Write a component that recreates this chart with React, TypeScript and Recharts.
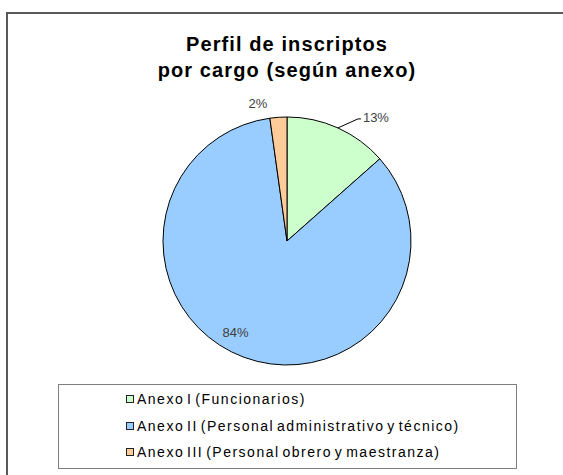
import React from "react";
import { PieChart, Pie, Cell, Legend } from "recharts";

const categories = [
  "Anexo I (Funcionarios)",
  "Anexo II (Personal administrativo y técnico)",
  "Anexo III (Personal obrero y maestranza)",
];
const values = [61, 382, 10];
const colors = ["#CCFFCC", "#99CCFF", "#FFCC99"];

const data = categories.map((name, i) => ({ name, value: values[i] }));
const total = values.reduce((a, b) => a + b, 0);

const RAD = Math.PI / 180;

const renderLabel = (props: any) => {
  const { cx, cy, midAngle, outerRadius, index, value } = props;
  const pct = `${Math.round((value / total) * 100)}%`;
  const font = { fontFamily: "'Liberation Sans', Arial, sans-serif", fontSize: 13, fill: "#404040" };
  if (index === 0) {
    const cos = Math.cos(-midAngle * RAD);
    const sin = Math.sin(-midAngle * RAD);
    const sx = cx + outerRadius * cos;
    const sy = cy + outerRadius * sin;
    const mx = sx + 20;
    const my = sy - 9;
    const ex = mx + 3;
    return (
      <g>
        <polyline points={`${sx},${sy} ${mx},${my} ${ex},${my}`} fill="none" stroke="#000" strokeWidth={1} />
        <text x={ex + 2} y={my + 3} textAnchor="start" {...font}>{pct}</text>
      </g>
    );
  }
  if (index === 1) {
    const a = (midAngle - 9) * RAD;
    const r = outerRadius * 0.85;
    return (
      <text x={cx + r * Math.cos(-a)} y={cy + r * Math.sin(-a) + 4} textAnchor="middle" {...font}>{pct}</text>
    );
  }
  const a = (midAngle + 8) * RAD;
  const r = outerRadius + 16;
  return (
    <text x={cx + r * Math.cos(-a)} y={cy + r * Math.sin(-a) + 4} textAnchor="middle" {...font}>{pct}</text>
  );
};

const renderLegend = () => (
  <div
    style={{
      width: 459,
      height: 85,
      border: "1px solid #7f7f7f",
      boxSizing: "border-box",
      paddingTop: 1,
      fontFamily: "'Liberation Sans', Arial, sans-serif",
      fontSize: 14,
      letterSpacing: 1.5,
      wordSpacing: -2.5,
      color: "#000",
    }}
  >
    {data.map((d, i) => (
      <div key={d.name} style={{ display: "flex", alignItems: "center", height: 26.5, paddingLeft: 67 }}>
        <span
          style={{
            display: "inline-block",
            width: 6,
            height: 6,
            border: "1px solid #222",
            background: colors[i],
            marginRight: 3,
          }}
        />
        <span>{d.name}</span>
      </div>
    ))}
  </div>
);

export default function App() {
  return (
    <div style={{ position: "absolute", left: 0, top: 0, width: 563, height: 475, background: "#fff", overflow: "hidden" }}>
      <div
        style={{
          position: "absolute",
          left: 6,
          top: 12,
          width: 600,
          height: 500,
          borderLeft: "2px solid #595959",
          borderTop: "2px solid #595959",
        }}
      />
      <div
        style={{
          position: "absolute",
          left: 0,
          top: 31,
          width: 574,
          textAlign: "center",
          fontFamily: "'Liberation Sans', Arial, sans-serif",
          fontWeight: "bold",
          fontSize: 20,
          letterSpacing: 1.1,
          lineHeight: "26px",
          color: "#000",
        }}
      >
        Perfil de inscriptos
        <br />
        por cargo (según anexo)
      </div>
      <div style={{ position: "absolute", left: 0, top: 0 }}>
        <PieChart width={563} height={475}>
          <Pie
            data={data}
            dataKey="value"
            nameKey="name"
            cx={282}
            cy={236}
            outerRadius={124}
            startAngle={90}
            endAngle={-270}
            stroke="#000"
            strokeWidth={1}
            label={renderLabel}
            labelLine={false}
            isAnimationActive={false}
          >
            {data.map((d, i) => (
              <Cell key={d.name} fill={colors[i]} />
            ))}
          </Pie>
          <Legend
            content={renderLegend}
            layout="vertical"
            wrapperStyle={{ position: "absolute", left: 58, top: 384, width: 459, height: 85 }}
          />
        </PieChart>
      </div>
    </div>
  );
}
